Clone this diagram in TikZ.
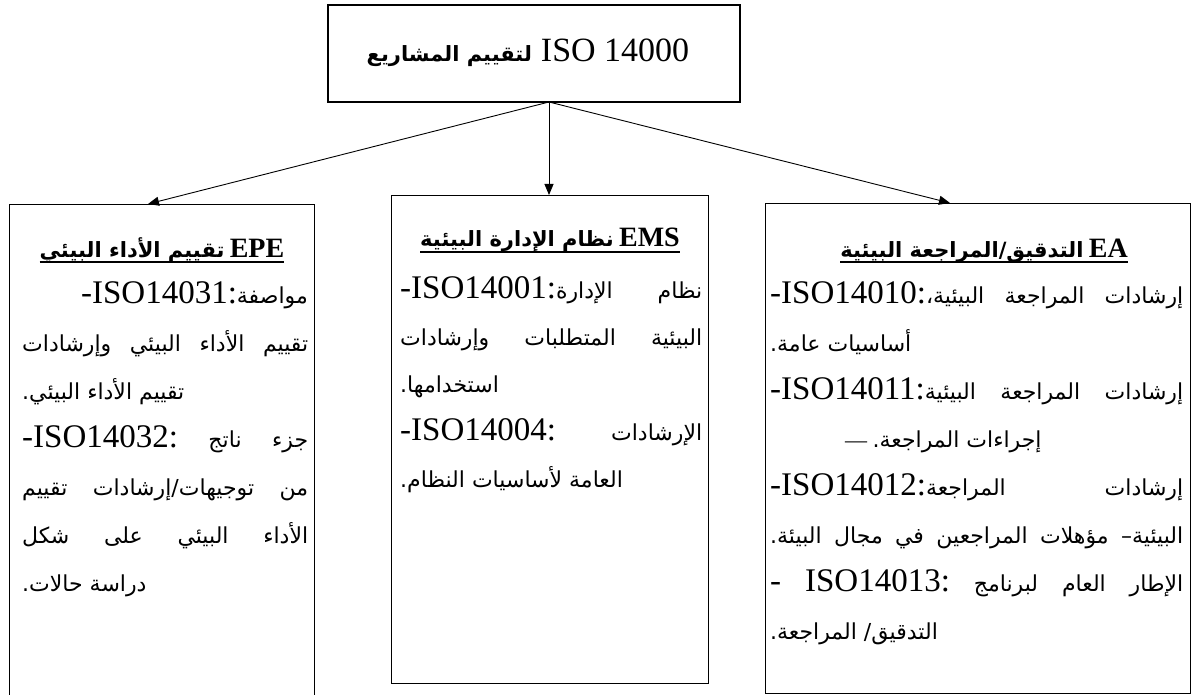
\documentclass[tikz,border=0pt]{standalone}
\usepackage{fontspec}
\setmainfont{Liberation Serif}
\newfontfamily\arabicfont[Script=Arabic]{DejaVu Sans}
\TeXXeTstate=1
\usetikzlibrary{arrows.meta}

% an Arabic run, set right to left
\newcommand\AR[1]{{\arabicfont\beginR #1\endR}}
% a Latin run at the size of the standard codes
\newcommand\LA[1]{{\rmfamily\fontsize{33}{33}\selectfont #1}}
% a line spread over the given width
\newcommand\JL[2]{\hbox to #1{#2}}

\tikzset{
  box/.style={draw, line width=1.4pt, inner sep=0pt},
  hdr/.style={font=\bfseries\fontsize{21}{21}\selectfont, inner sep=0pt, anchor=base},
  txt/.style={font=\fontsize{22}{22}\selectfont, inner sep=0pt, anchor=base west},
  txe/.style={txt, anchor=base east},
  link/.style={line width=0.9pt, -{Triangle[length=11pt,width=9pt]}},
  uline/.style={line width=1.4pt}
}
\newcommand\HL[1]{{\fontsize{28}{28}\selectfont #1}}

\begin{document}
\begin{tikzpicture}[x=1pt, y=-1pt]
\useasboundingbox (0,0) rectangle (1191,695);
\begin{scope}
\clip (0,0) rectangle (1191,695);

% frames
\node[box, minimum width=412pt, minimum height=97pt] (top) at (534,53.5) {};
\node[box, minimum width=305pt, minimum height=520pt, anchor=north west] (left) at (9,204) {};
\node[box, minimum width=317pt, minimum height=488pt, anchor=north west] (mid) at (391,195) {};
\node[box, minimum width=425pt, minimum height=490pt, anchor=north west] (right) at (765,203) {};

% title
\node[inner sep=0pt] (title) at (528,53)
  {{\bfseries\fontsize{21}{21}\selectfont\AR{لتقييم المشاريع}}\hspace{9pt}{\fontsize{34}{34}\selectfont ISO 14000}};

% connectors
\coordinate (src) at (549,102);
\coordinate (lt) at (148,204);
\coordinate (mt) at (549,195);
\coordinate (rt) at (950,203);
\draw[link] (src) -- (lt);
\draw[link] (src) -- (mt);
\draw[link] (src) -- (rt);

% left column: EPE
\node[hdr] (h1) at (162,257) {\AR{تقييم الأداء البيئي} \HL{EPE}};
\draw[uline] ([yshift=-5pt]h1.base west) -- ([yshift=-5pt]h1.base east);
\node[txe] (l1) at (308,303) {\LA{-ISO14031:}\AR{مواصفة}};
\node[txt] (l2) at (22,351) {\JL{286pt}{\AR{تقييم\hfill الأداء\hfill البيئي\hfill وإرشادات}}};
\node[txt] (l3) at (22,399) {\AR{تقييم الأداء البيئي.}};
\node[txt] (l4) at (22,447) {\JL{286pt}{\LA{-ISO14032:}\hfill\AR{جزء\hfill ناتج}}};
\node[txt] (l5) at (22,495) {\JL{286pt}{\AR{من\hfill توجيهات/إرشادات\hfill تقييم}}};
\node[txt] (l6) at (22,543) {\JL{286pt}{\AR{الأداء\hfill البيئي\hfill على\hfill شكل}}};
\node[txt] (l7) at (22,591) {\AR{دراسة حالات.}};

% middle column: EMS
\node[hdr] (h2) at (550,247) {\AR{نظام الإدارة البيئية} \HL{EMS}};
\draw[uline] ([yshift=-5pt]h2.base west) -- ([yshift=-5pt]h2.base east);
\node[txt] (m1) at (400,298) {\JL{302pt}{\LA{-ISO14001:}\AR{نظام\hfill الإدارة}}};
\node[txt] (m2) at (400,345) {\JL{302pt}{\AR{البيئية\hfill المتطلبات\hfill وإرشادات}}};
\node[txt] (m3) at (400,392) {\AR{استخدامها.}};
\node[txt] (m4) at (400,440) {\JL{302pt}{\LA{-ISO14004:}\hfill\AR{الإرشادات}}};
\node[txt] (m5) at (400,487) {\AR{العامة لأساسيات النظام.}};

% right column: EA
\node[hdr] (h3) at (984,257) {\AR{التدقيق/المراجعة البيئية} \HL{EA}};
\draw[uline] ([yshift=-5pt]h3.base west) -- ([yshift=-5pt]h3.base east);
\node[txt] (r1) at (770,303) {\JL{413pt}{\LA{-ISO14010:}\AR{إرشادات\hfill المراجعة\hfill البيئية،}}};
\node[txt] (r2) at (770,351) {\AR{أساسيات عامة.}};
\node[txt] (r3) at (770,399) {\JL{413pt}{\LA{-ISO14011:}\AR{إرشادات\hfill المراجعة\hfill البيئية}}};
\node[txt] (r4) at (845,447) {{\rmfamily —} \AR{إجراءات المراجعة.}};
\node[txt] (r5) at (770,495) {\JL{413pt}{\LA{-ISO14012:}\AR{إرشادات\hfill المراجعة}}};
\node[txt] (r6) at (770,543) {\JL{413pt}{\AR{البيئية–\hfill مؤهلات\hfill المراجعين\hfill في\hfill مجال\hfill البيئة.}}};
\node[txt] (r7) at (770,591) {\JL{413pt}{\LA{-}\hfill\LA{ISO14013:}\hfill\AR{الإطار\hfill العام\hfill لبرنامج}}};
\node[txt] (r8) at (770,639) {\AR{التدقيق/ المراجعة.}};
\end{scope}
\end{tikzpicture}
\end{document}
